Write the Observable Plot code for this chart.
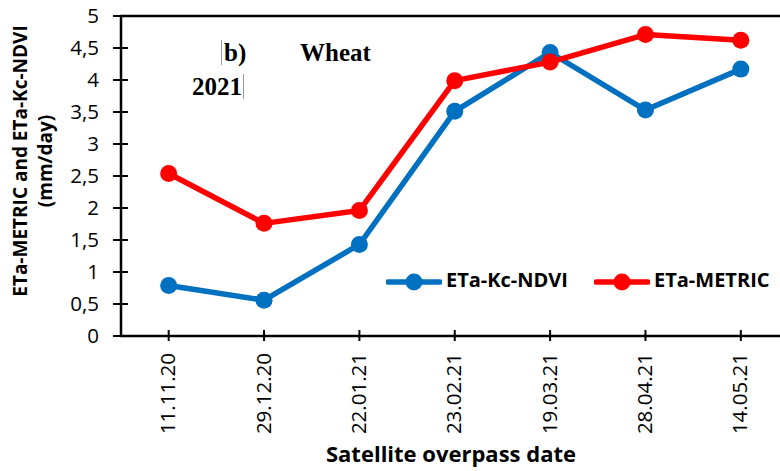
<!DOCTYPE html>
<html>
<head>
<meta charset="utf-8">
<script src="https://cdn.jsdelivr.net/npm/d3@7"></script>
<script src="https://cdn.jsdelivr.net/npm/@observablehq/plot@0.6"></script>
<style>
  html, body { margin: 0; padding: 0; background: white; }
  #wrap { position: relative; width: 780px; height: 471px; overflow: hidden; font-family: "Open Sans", sans-serif; color: black; }
  .ov { position: absolute; white-space: nowrap; }
  .serif { font-family: "Liberation Serif", "DejaVu Serif", serif; font-weight: bold; font-size: 25px; line-height: 25px; }
</style>
</head>
<body>
<div id="wrap"></div>
<script>
const dates = ["11.11.20", "29.12.20", "22.01.21", "23.02.21", "19.03.21", "28.04.21", "14.05.21"];
const etaKcNdvi = [0.79, 0.56, 1.43, 3.51, 4.43, 3.53, 4.17];
const etaMetric = [2.54, 1.76, 1.96, 3.99, 4.28, 4.71, 4.62];
const seriesNames = ["ETa-Kc-NDVI", "ETa-METRIC"];
const seriesColors = ["#0070C0", "#FF0000"];
const yTicks = [0, 0.5, 1, 1.5, 2, 2.5, 3, 3.5, 4, 4.5, 5];

const rowsNdvi = dates.map((d, i) => ({i, date: d, v: etaKcNdvi[i], series: seriesNames[0]}));
const rowsMetric = dates.map((d, i) => ({i, date: d, v: etaMetric[i], series: seriesNames[1]}));
const idx = d3.range(dates.length);

const chart = Plot.plot({
  width: 780,
  height: 471,
  marginTop: 15.5,
  marginBottom: 135.5,
  marginLeft: 120.5,
  marginRight: 0,
  style: {fontFamily: "Open Sans", fontSize: "20px", color: "black", background: "white"},
  x: {type: "linear", domain: [-0.5, dates.length - 0.5], range: [120.5, 788], label: null},
  y: {domain: [0, 5], label: null},
  color: {domain: seriesNames, range: seriesColors},
  marks: [
    Plot.ruleY([0, 5], {stroke: "black", strokeWidth: 2.5}),
    Plot.ruleX([-0.5], {stroke: "black", strokeWidth: 2.5}),
    Plot.axisY({ticks: yTicks, tickSize: 15, dx: 7.5, tickFormat: () => "", strokeWidth: 2, label: null}),
    Plot.axisY({ticks: yTicks, tickSize: 0, tickPadding: 22, tickFormat: d => String(d).replace(".", ","), fontSize: 20.5, label: null}),
    Plot.axisX({ticks: idx, tickSize: 11, dy: -5.5, tickFormat: () => "", strokeWidth: 2, label: null}),
    Plot.axisX({ticks: idx, tickSize: 0, tickPadding: 17, tickRotate: -90, tickFormat: i => dates[i], fontSize: 20.5, label: null}),
    Plot.line(rowsNdvi, {x: "i", y: "v", stroke: "series", strokeWidth: 5.5}),
    Plot.dot(rowsNdvi, {x: "i", y: "v", fill: "series", r: 8.5}),
    Plot.line(rowsMetric, {x: "i", y: "v", stroke: "series", strokeWidth: 5.5}),
    Plot.dot(rowsMetric, {x: "i", y: "v", fill: "series", r: 8.5})
  ]
});

const wrap = document.getElementById("wrap");
wrap.appendChild(chart);

function addDiv(html, css, cls) {
  const d = document.createElement("div");
  d.className = "ov" + (cls ? " " + cls : "");
  d.innerHTML = html;
  Object.assign(d.style, css);
  wrap.appendChild(d);
  return d;
}

// Y axis title (two lines, rotated)
addDiv("ETa-METRIC and ETa-Kc-NDVI<br>(mm/day)", {
  left: (32.5 - 170) + "px", top: (161 - 25) + "px", width: "340px", height: "50px",
  lineHeight: "25px", textAlign: "center", fontWeight: "bold", fontSize: "19px",
  transform: "rotate(-90deg)", transformOrigin: "50% 50%"
});

// X axis title
addDiv("Satellite overpass date", {
  left: (451 - 200) + "px", top: "442px", width: "400px", textAlign: "center",
  fontWeight: "bold", fontSize: "22px", lineHeight: "22px"
});

// Annotations
addDiv("b)", {left: "221px", top: "40px", paddingLeft: "2px", borderLeft: "1px solid #999"}, "serif");
addDiv("Wheat", {left: "300px", top: "40px"}, "serif");
addDiv("2021", {left: "192px", top: "74px", paddingRight: "1px", borderRight: "1px solid #999"}, "serif");

// Legend
const legendX = [386, 594];
seriesNames.forEach((name, k) => {
  const c = seriesColors[k];
  addDiv(`<svg width="56" height="20" style="display:block"><line x1="2" y1="10" x2="54" y2="10" stroke="${c}" stroke-width="5.5" stroke-linecap="round"/><circle cx="28" cy="10" r="8.5" fill="${c}"/></svg>`,
    {left: legendX[k] + "px", top: "272px"});
  addDiv(name, {left: (legendX[k] + 60) + "px", top: "270px", fontWeight: "bold", fontSize: "20px", lineHeight: "20px"});
});
</script>
</body>
</html>
